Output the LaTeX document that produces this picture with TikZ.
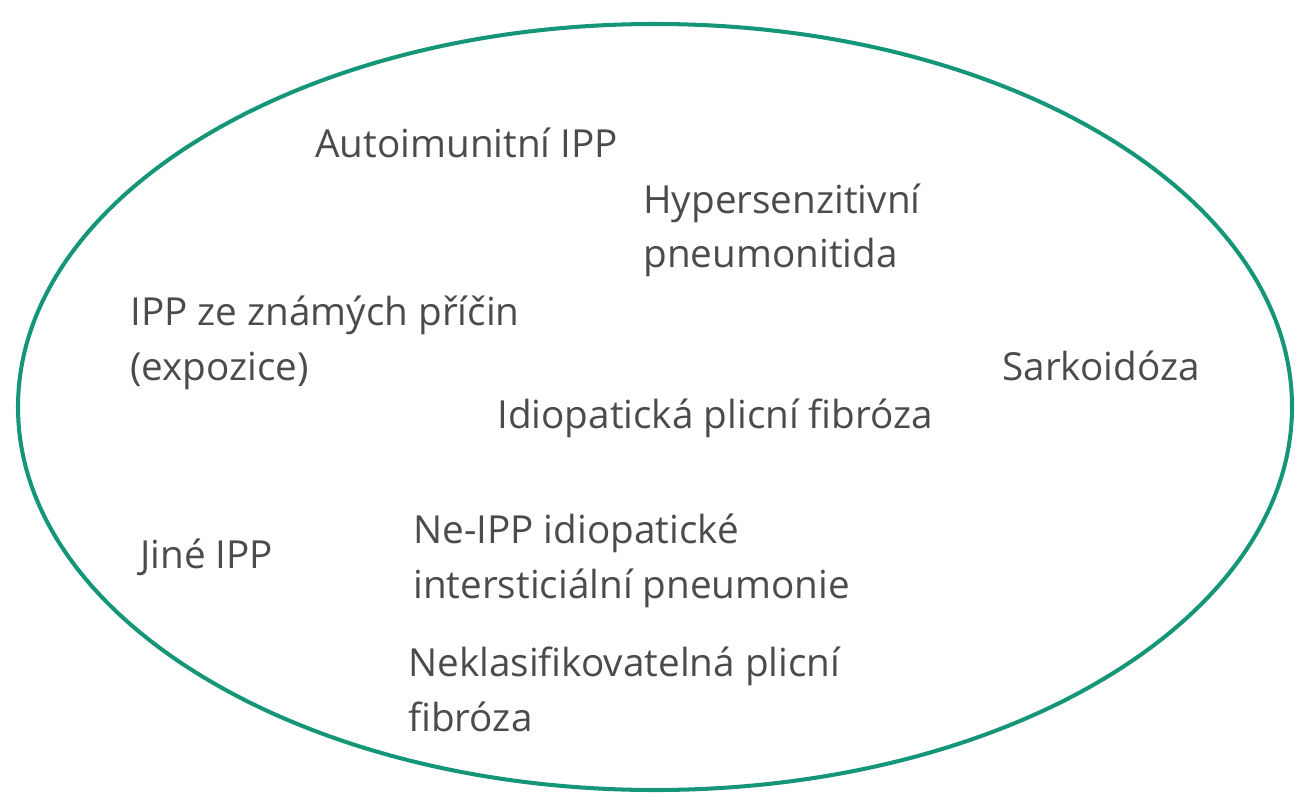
\documentclass[tikz,border=0pt]{standalone}
\usepackage{fontspec}
\setmainfont{Open Sans}
\definecolor{rimteal}{RGB}{22,150,120}
\definecolor{labelgray}{RGB}{75,75,75}
\begin{document}
\begin{tikzpicture}[x=0.02cm, y=-0.02cm,
  lbl/.style={anchor=base west, align=left, inner sep=0pt, text=labelgray,
    font=\fontsize{22}{31}\selectfont}]

\def\cx{655};
\def\cy{407};
\def\rx{637};
\def\ry{383};

\useasboundingbox (0,0) rectangle (1307,800);

\draw[rimteal, line width=2.3pt] (\cx,\cy) ellipse [x radius=\rx, y radius=\ry]; % outline

% multi-line labels sit on the baseline of their last line
\node[lbl] (auto) at (315,158) {Autoimunitní IPP};
\node[lbl] (hyper) at (643,268) {Hypersenzitivní\\pneumonitida};
\node[lbl] (known) at (130,380) {IPP ze známých příčin\\(expozice)};
\node[lbl] (sarc) at (1002,380) {Sarkoidóza};
\node[lbl] (ipf) at (497,428) {Idiopatická plicní fibróza};
\node[lbl] (other) at (140,568) {Jiné IPP};
\node[lbl] (nonipf) at (413,598) {Ne-IPP idiopatické\\intersticiální pneumonie};
\node[lbl] (unclass) at (408,731) {Neklasifikovatelná plicní\\fibróza};

\end{tikzpicture}
\end{document}
